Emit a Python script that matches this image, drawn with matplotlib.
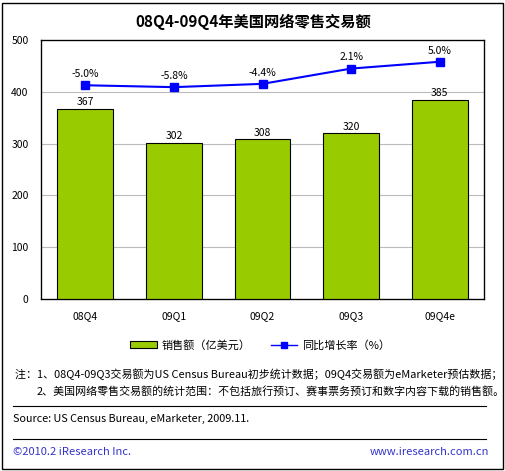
import matplotlib.pyplot as plt
from matplotlib.patches import Rectangle
from matplotlib.lines import Line2D

plt.rcParams["font.family"] = ["Noto Sans CJK SC", "DejaVu Sans"]

quarters = ["08Q4", "09Q1", "09Q2", "09Q3", "09Q4e"]
sales = [367, 302, 308, 320, 385]
growth = [-5.0, -5.8, -4.4, 2.1, 5.0]

W, H = 506, 471
fig = plt.figure(figsize=(W / 100, H / 100), dpi=100)

# outer frame
fig.patches.append(Rectangle((2 / W, 2 / H), (W - 5) / W, (H - 5) / H,
                             transform=fig.transFigure, fill=False,
                             edgecolor="black", linewidth=1.0))

left, right, top, bottom = 41, 484, 40, 299
ax = fig.add_axes([left / W, 1 - bottom / H, (right - left) / W, (bottom - top) / H])
x = range(len(quarters))
ax.bar(x, sales, width=0.63, color="#99CC00", edgecolor="black", linewidth=0.8, zorder=3)
ax.set_xlim(-0.5, len(quarters) - 0.5)
ax.set_ylim(0, 500)
ax.set_yticks([0, 100, 200, 300, 400, 500])
ax.set_xticks(list(x), quarters)
for yv in [100, 200, 300, 400]:
    ax.axhline(yv, color="#BBBBBB", linewidth=0.8, zorder=1)
ax.tick_params(axis="y", length=0, labelsize=7.5, pad=9)
ax.tick_params(axis="x", length=0, labelsize=7.5, pad=9)
for side in ["left", "right", "top", "bottom"]:
    ax.spines[side].set_linewidth(0.9)
for i, v in enumerate(sales):
    ax.text(i, v + 3, str(v), ha="center", va="bottom", fontsize=7.5)

ax2 = ax.twinx()
ax2.set_ylim(-95.9, 14.25)
ax2.plot(list(x), growth, color="#0000FF", linewidth=1.5, marker="s",
         markersize=6, zorder=4)
ax2.set_yticks([])
for i, g in enumerate(growth):
    ax2.text(i, g + 2.6, f"{g:.1f}%", ha="center", va="bottom", fontsize=7.5)

fig.text(253 / W, 1 - 22 / H, "08Q4-09Q4年美国网络零售交易额", ha="center",
         va="center", fontsize=11, fontweight="bold")

# legend
handles = [Rectangle((0, 0), 1, 1, facecolor="#99CC00", edgecolor="black", linewidth=0.8),
           Line2D([], [], color="#0000FF", marker="s", markersize=5, linewidth=1)]
fig.legend(handles, ["销售额（亿美元）", "同比增长率（%）"], loc="center",
           bbox_to_anchor=(260 / W, 1 - 345 / H), ncol=2, frameon=False,
           fontsize=8, handlelength=2.4, handletextpad=0.4, columnspacing=1.8)

fig.text(15 / W, 1 - 374 / H,
         "注：1、08Q4-09Q3交易额为US Census Bureau初步统计数据；09Q4交易额为eMarketer预估数据；",
         ha="left", va="center", fontsize=7.9)
fig.text(37 / W, 1 - 391 / H,
         "2、美国网络零售交易额的统计范围：不包括旅行预订、赛事票务预订和数字内容下载的销售额。",
         ha="left", va="center", fontsize=7.9)

fig.add_artist(Line2D([13 / W, 486 / W], [1 - 406 / H] * 2, color="black", linewidth=0.8))
fig.text(13 / W, 1 - 419 / H, "Source: US Census Bureau, eMarketer, 2009.11.",
         ha="left", va="center", fontsize=7.8)
fig.add_artist(Line2D([13 / W, 486 / W], [1 - 439 / H] * 2, color="black", linewidth=0.8))
fig.text(13 / W, 1 - 452 / H, "©2010.2 iResearch Inc.", ha="left", va="center",
         fontsize=8, color="#3333CC")
fig.text(489 / W, 1 - 452 / H, "www.iresearch.com.cn", ha="right", va="center",
         fontsize=8, color="#3333CC")

fig.savefig("out.png", dpi=100)
